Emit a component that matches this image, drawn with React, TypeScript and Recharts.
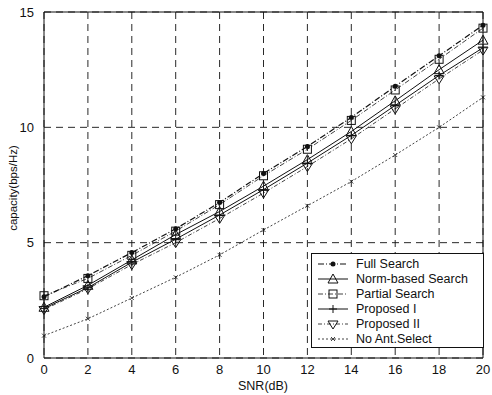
import { LineChart, Line, XAxis, YAxis, CartesianGrid } from "recharts";

const snr = [0, 2, 4, 6, 8, 10, 12, 14, 16, 18, 20];
const fullSearch = [2.65, 3.57, 4.57, 5.6, 6.74, 8.0, 9.17, 10.43, 11.78, 13.1, 14.43];
const normBased = [2.2, 3.15, 4.25, 5.35, 6.35, 7.45, 8.6, 9.82, 11.15, 12.5, 13.78];
const partialSearch = [2.7, 3.45, 4.45, 5.5, 6.65, 7.9, 9.05, 10.3, 11.62, 12.95, 14.3];
const proposedI = [2.15, 3.05, 4.15, 5.15, 6.2, 7.3, 8.45, 9.65, 10.95, 12.25, 13.45];
const proposedII = [2.1, 3.0, 4.05, 5.0, 6.05, 7.15, 8.3, 9.5, 10.8, 12.1, 13.35];
const noSelect = [0.97, 1.7, 2.6, 3.5, 4.47, 5.55, 6.6, 7.65, 8.8, 10.0, 11.3];
const xTicks = [0, 2, 4, 6, 8, 10, 12, 14, 16, 18, 20];
const yTicks = [0, 5, 10, 15];

const data = snr.map((s, i) => ({
  snr: s,
  full: fullSearch[i],
  norm: normBased[i],
  partial: partialSearch[i],
  p1: proposedI[i],
  p2: proposedII[i],
  none: noSelect[i],
}));

type Shape = "dot" | "tri" | "sq" | "plus" | "dia" | "x";

function mark(shape: Shape, cx: number, cy: number, key?: string) {
  const s = "#111";
  switch (shape) {
    case "dot":
      return <circle key={key} cx={cx} cy={cy} r={2.5} fill={s} />;
    case "tri":
      return <path key={key} d={`M${cx},${cy - 5} L${cx + 5},${cy + 4} L${cx - 5},${cy + 4} Z`} fill="none" stroke={s} />;
    case "sq":
      return <rect key={key} x={cx - 4} y={cy - 4} width={8} height={8} fill="none" stroke={s} />;
    case "plus":
      return <path key={key} d={`M${cx - 4},${cy} H${cx + 4} M${cx},${cy - 4} V${cy + 4}`} stroke={s} />;
    case "dia":
      return <path key={key} d={`M${cx - 5},${cy - 3} L${cx + 5},${cy - 3} L${cx},${cy + 5} Z`} fill="none" stroke={s} />;
    default:
      return <path key={key} d={`M${cx - 2},${cy - 2} L${cx + 2},${cy + 2} M${cx - 2},${cy + 2} L${cx + 2},${cy - 2}`} stroke={s} strokeWidth={0.8} />;
  }
}

const series = [
  { key: "full", name: "Full Search", shape: "dot" as Shape, dash: "6 2 1 2", w: 1.2 },
  { key: "norm", name: "Norm-based Search", shape: "tri" as Shape, dash: undefined, w: 1 },
  { key: "partial", name: "Partial Search", shape: "sq" as Shape, dash: "5 2 1 2", w: 0.8 },
  { key: "p1", name: "Proposed I", shape: "plus" as Shape, dash: undefined, w: 1 },
  { key: "p2", name: "Proposed II", shape: "dia" as Shape, dash: "4 2 1 2", w: 0.8 },
  { key: "none", name: "No Ant.Select", shape: "x" as Shape, dash: "2 2", w: 0.8 },
];

const font = "Liberation Sans, Arial, sans-serif";

function LegendBox() {
  return (
    <div
      style={{
        position: "absolute",
        left: 311,
        top: 253,
        width: 173,
        height: 95,
        boxSizing: "border-box",
        border: "1px solid #111",
        background: "#fff",
        padding: "2px 4px",
        fontFamily: font,
        fontSize: 12.5,
        color: "#111",
      }}
    >
      {series.map((s) => (
        <div key={s.key} style={{ display: "flex", alignItems: "center", height: 15 }}>
          <svg width={34} height={14} style={{ marginRight: 6 }}>
            <line x1={2} y1={7} x2={32} y2={7} stroke="#111" strokeWidth={s.w} strokeDasharray={s.dash} />
            {mark(s.shape, 17, 7)}
          </svg>
          <span>{s.name}</span>
        </div>
      ))}
    </div>
  );
}

export default function App() {
  const tickStyle = { fill: "#111", fontSize: 13, fontFamily: font };
  return (
    <div style={{ position: "fixed", left: 0, top: 0, width: 492, height: 395, background: "#fff" }}>
      <LineChart width={492} height={395} data={data} margin={{ top: 11, right: 8, bottom: 17, left: 10 }}>
        <CartesianGrid stroke="#111" strokeDasharray="7 5" strokeWidth={0.9} />
        <XAxis
          dataKey="snr"
          type="number"
          domain={[0, 20]}
          ticks={xTicks}
          tick={tickStyle}
          tickLine={false}
          axisLine={{ stroke: "#111" }}
          tickMargin={1}
          height={20}
        />
        <XAxis xAxisId="top" orientation="top" dataKey="snr" type="number" domain={[0, 20]} tick={false} tickLine={false} axisLine={{ stroke: "#111" }} height={1} />
        <YAxis
          type="number"
          domain={[0, 15]}
          ticks={yTicks}
          tick={tickStyle}
          tickLine={false}
          axisLine={{ stroke: "#111" }}
          width={34}
          tickMargin={4}
        />
        <YAxis yAxisId="right" orientation="right" domain={[0, 15]} tick={false} tickLine={false} axisLine={{ stroke: "#111" }} width={1} />
        {series.map((s) => (
          <Line
            key={s.key}
            dataKey={s.key}
            name={s.name}
            stroke="#111"
            strokeWidth={s.w}
            strokeDasharray={s.dash}
            isAnimationActive={false}
            dot={(p: any) => mark(s.shape, p.cx, p.cy, `${s.key}-${p.index}`)}
            activeDot={false}
          />
        ))}
      </LineChart>
      <LegendBox />
      <div
        style={{
          position: "absolute",
          left: 13,
          top: 188,
          transform: "translate(-50%, -50%) rotate(-90deg)",
          whiteSpace: "nowrap",
          fontFamily: font,
          fontSize: 11.5,
          color: "#111",
        }}
      >
        capacity(bps/Hz)
      </div>
      <div
        style={{
          position: "absolute",
          left: 263,
          top: 386,
          transform: "translate(-50%, -50%)",
          whiteSpace: "nowrap",
          fontFamily: font,
          fontSize: 12.5,
          color: "#111",
        }}
      >
        SNR(dB)
      </div>
    </div>
  );
}
